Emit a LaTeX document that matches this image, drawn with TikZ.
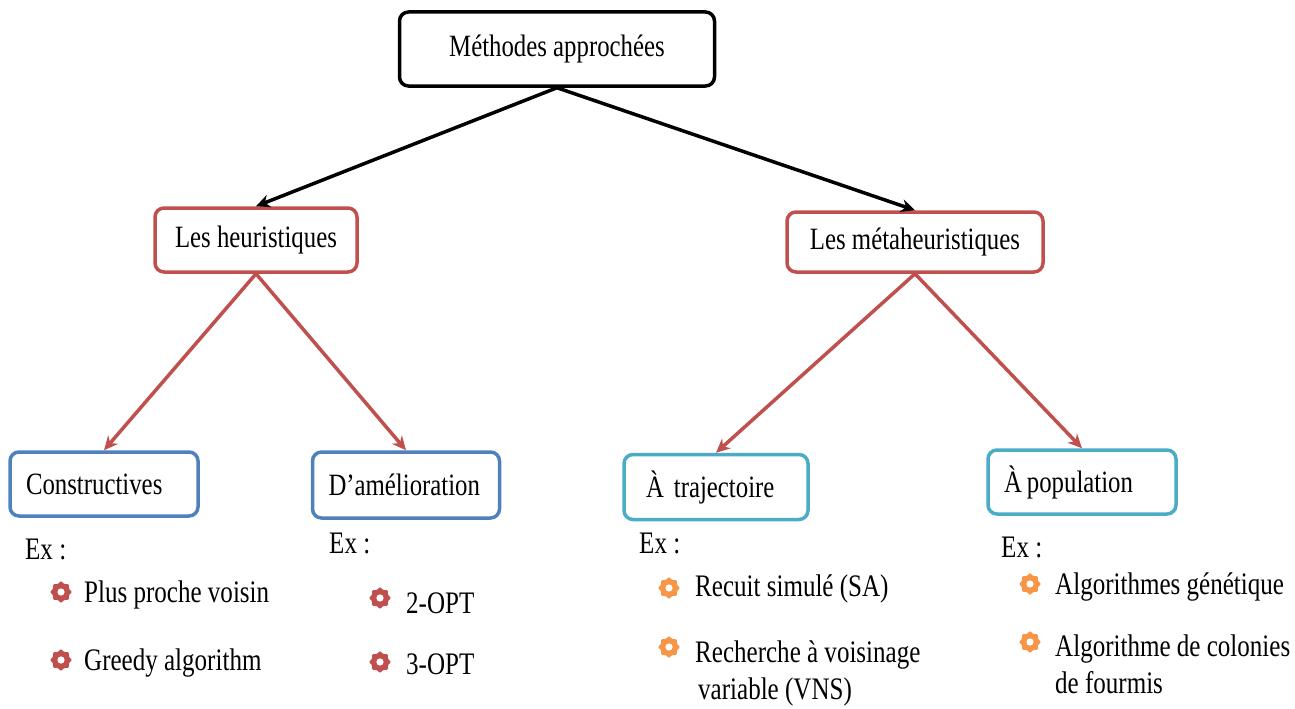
\documentclass[tikz,border=0pt]{standalone}
\usepackage{fontspec}
\setmainfont{Liberation Serif}[FakeStretch=0.8]
\usetikzlibrary{arrows.meta}
\usetikzlibrary{shapes.geometric}

\definecolor{boxred}{HTML}{C0504D}
\definecolor{boxblue}{HTML}{4F81BD}
\definecolor{boxteal}{HTML}{4BACC6}
\definecolor{bulorange}{HTML}{F79646}

\tikzset{
  box/.style={draw=#1, line width=3.5pt, rounded corners=9pt, fill=white, inner sep=0pt,
    font=\fontsize{31}{34}\selectfont},
  box/.default=black,
  leafbox/.style={box=#1, align=left, inner xsep=16pt},
  itemtext/.style={anchor=west, inner sep=0pt, align=left, font=\fontsize{31.3}{37}\selectfont},
  bul/.style={star, star points=8, star point ratio=1.4, fill=#1, inner sep=0pt,
    minimum size=23pt, rounded corners=1.5pt,
    path picture={\fill[white] (path picture bounding box.center) circle (3.6pt);}},
  blackarrow/.style={line width=3.5pt, -{Stealth[length=14pt,width=13pt]}},
  redarrow/.style={line width=3.5pt, boxred, -{Stealth[length=14pt,width=13pt]}}
}

\begin{document}
\begin{tikzpicture}[x=1pt,y=-1pt]

        \useasboundingbox (0,0) rectangle (1295,709);

        % levels
        \node [box, minimum width=315pt, minimum height=74pt] (top) at (557,49) {Méthodes approchées};
        \node [box=boxred, minimum width=202pt, minimum height=64pt] (heur) at (256,240) {Les heuristiques};
        \node [box=boxred, minimum width=256pt, minimum height=60pt] (meta) at (915,242) {Les métaheuristiques};

        \node [leafbox=boxblue, text width=156pt, minimum height=64pt] (constr) at (104,484) {Constructives};
        \node [leafbox=boxblue, text width=155pt, minimum height=66pt] (amel) at (406,485) {D’amélioration};
        \node [leafbox=boxteal, text width=152pt, minimum height=65pt] (traj) at (716,487) {\hspace*{6pt}À\kern10pt trajectoire};
        \node [leafbox=boxteal, text width=156pt, minimum height=64pt] (pop) at (1082,482) {À\kern5pt population};

        \draw[blackarrow] (top.south) -- (heur.north);
        \draw[blackarrow] (top.south) -- (meta.north);
        \draw[redarrow] (heur.south) -- (constr.north);
        \draw[redarrow] (heur.south) -- (amel.north);
        \draw[redarrow] (meta.south) -- (traj.north);
        \draw[redarrow] (meta.south) -- (pop.north);

        % examples
        \node [itemtext] (ex1) at (25,549) {Ex :};
        \node [itemtext] (ex2) at (329,543) {Ex :};
        \node [itemtext] (ex3) at (639,543) {Ex :};
        \node [itemtext] (ex4) at (1001,547) {Ex :};

        \node [bul=boxred] (b1) at (61,592) {};
        \node [itemtext] (i1) at (84,595) {Plus proche voisin};
        \node [bul=boxred] (b2) at (61,660) {};
        \node [itemtext] (i2) at (84,663) {Greedy algorithm};

        \node [bul=boxred] (b3) at (380,598) {};
        \node [itemtext] (i3) at (406,603) {2-OPT};
        \node [bul=boxred] (b4) at (380,662) {};
        \node [itemtext] (i4) at (406,664) {3-OPT};

        \node [bul=bulorange] (b5) at (669,588) {};
        \node [itemtext] (i5) at (695,589) {Recuit simulé (SA)};
        \node [bul=bulorange] (b6) at (669,647) {};
        \node [itemtext] (i6) at (695,673) {Recherche à voisinage\\\hspace*{3pt}variable (VNS)};

        \node [bul=bulorange] (b7) at (1030,584) {};
        \node [itemtext] (i7) at (1055,587) {Algorithmes génétique};
        \node [bul=bulorange] (b8) at (1030,642) {};
        \node [itemtext] (i8) at (1055,664) {Algorithme de colonies\\de fourmis};

      \end{tikzpicture}
\end{document}
